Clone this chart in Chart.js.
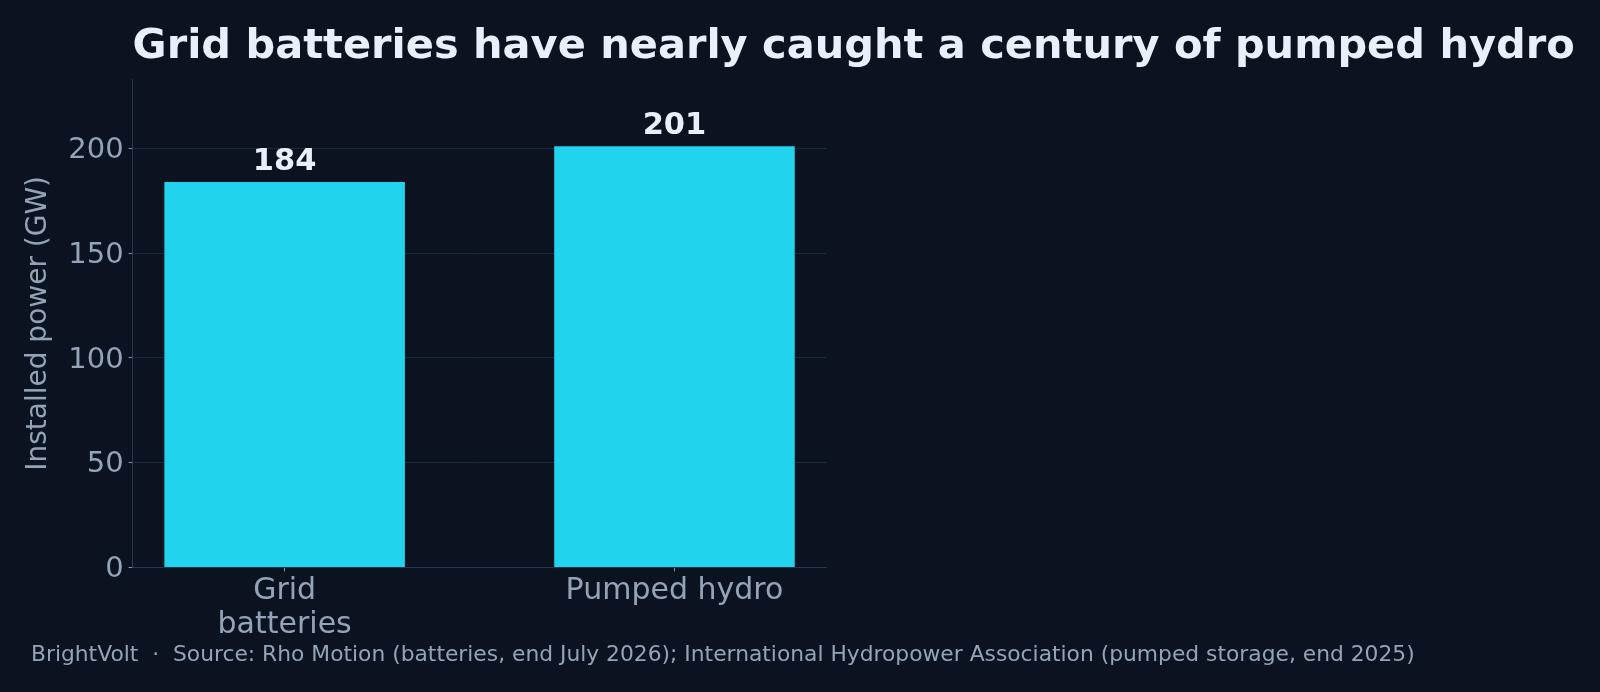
<!DOCTYPE html>
<html lang="en">
<head>
<meta charset="utf-8">
<title>Grid batteries vs pumped hydro</title>
<script src="https://cdn.jsdelivr.net/npm/chart.js@4.4.1/dist/chart.umd.min.js"></script>
<style>
  html, body { margin: 0; padding: 0; background: #0b1220; }
  #wrap { width: 1600px; height: 692px; }
</style>
</head>
<body>
<div id="wrap"><canvas id="storageChart" width="1600" height="692"></canvas></div>
<script>
// ==========================================
// DATA
// ==========================================
const categories = ['Grid batteries', 'Pumped hydro'];
const categoryTickLabels = [['Grid', 'batteries'], ['Pumped hydro']];
const installedGW = [184, 201];
const yTicks = [0, 50, 100, 150, 200];

const chartTitle = 'Grid batteries have nearly caught a century of pumped hydro';
const footerText = 'BrightVolt  \u00b7  Source: Rho Motion (batteries, end July 2026); International Hydropower Association (pumped storage, end 2025)';

// colours
const BAR = '#22d3ee';
const TEXT_MAIN = '#eaf0fa';
const TEXT_MUTED = '#94a3b8';
const GRID = '#1e2940';
const SPINE = '#2a3650';
const TICK = '#8894a8';
const FONT = '"DejaVu Sans", sans-serif';

// ==========================================
// PLUGINS
// ==========================================

// bold value above each bar, positioned from the bar elements
const valueLabels = {
    id: 'valueLabels',
    afterDatasetsDraw(chart) {
        const { ctx } = chart;
        const meta = chart.getDatasetMeta(0);
        ctx.save();
        ctx.font = 'bold 30.5px ' + FONT;
        ctx.fillStyle = TEXT_MAIN;
        ctx.textAlign = 'center';
        ctx.textBaseline = 'alphabetic';
        meta.data.forEach((bar, i) => {
            ctx.fillText(String(installedGW[i]), bar.x, bar.y - 12);
        });
        ctx.restore();
    }
};

// headline (left aligned with the plot) and source line
const headerFooter = {
    id: 'headerFooter',
    afterDraw(chart) {
        const { ctx, chartArea } = chart;
        ctx.save();
        ctx.textAlign = 'left';
        ctx.textBaseline = 'alphabetic';
        ctx.fillStyle = TEXT_MAIN;
        ctx.font = 'bold 41.5px ' + FONT;
        ctx.fillText(chartTitle, chartArea.left, 58);
        ctx.fillStyle = TEXT_MUTED;
        ctx.font = '21.8px ' + FONT;
        ctx.fillText(footerText, 31, 661);
        ctx.restore();
    }
};

// ==========================================
// CHART
// ==========================================
document.addEventListener('DOMContentLoaded', () => {
    const ctx = document.getElementById('storageChart').getContext('2d');

    new Chart(ctx, {
        type: 'bar',
        data: {
            labels: categories,
            datasets: [{
                label: 'Installed power (GW)',
                data: installedGW.map((v, i) => ({ x: i, y: v })),
                backgroundColor: BAR,
                borderWidth: 0,
                categoryPercentage: 1,
                barPercentage: 0.617
            }]
        },
        options: {
            responsive: false,
            animation: false,
            layout: { padding: { top: 79.3, right: 773.5, bottom: 0, left: 0 } },
            plugins: {
                legend: { display: false },
                tooltip: { enabled: false }
            },
            scales: {
                x: {
                    type: 'linear',
                    min: -0.39,
                    max: 1.39,
                    offset: false,
                    afterBuildTicks: (scale) => {
                        scale.ticks = categories.map((_, i) => ({ value: i }));
                    },
                    afterFit: (scale) => { scale.height = 124.5; },
                    grid: {
                        offset: false,
                        drawOnChartArea: false,
                        drawTicks: true,
                        tickLength: 4,
                        tickColor: TICK
                    },
                    border: { color: SPINE, width: 1 },
                    ticks: {
                        padding: 3,
                        color: TEXT_MUTED,
                        maxRotation: 0,
                        autoSkip: false,
                        font: { family: FONT, size: 30, lineHeight: 1.13 },
                        callback: (value) => categoryTickLabels[value]
                    }
                },
                y: {
                    min: 0,
                    max: 233,
                    afterBuildTicks: (scale) => {
                        scale.ticks = yTicks.map(v => ({ value: v }));
                    },
                    afterFit: (scale) => { scale.width = 132.6; },
                    grid: {
                        color: GRID,
                        lineWidth: 1,
                        tickLength: 4,
                        tickColor: TICK
                    },
                    border: { color: SPINE, width: 1 },
                    ticks: {
                        padding: 5,
                        labelOffset: 2,
                        color: TEXT_MUTED,
                        font: { family: FONT, size: 29 }
                    },
                    title: {
                        display: true,
                        text: 'Installed power (GW)',
                        color: TEXT_MUTED,
                        font: { family: FONT, size: 28 },
                        padding: { top: 22, bottom: 0 }
                    }
                }
            }
        },
        plugins: [valueLabels, headerFooter]
    });
});
</script>
</body>
</html>
